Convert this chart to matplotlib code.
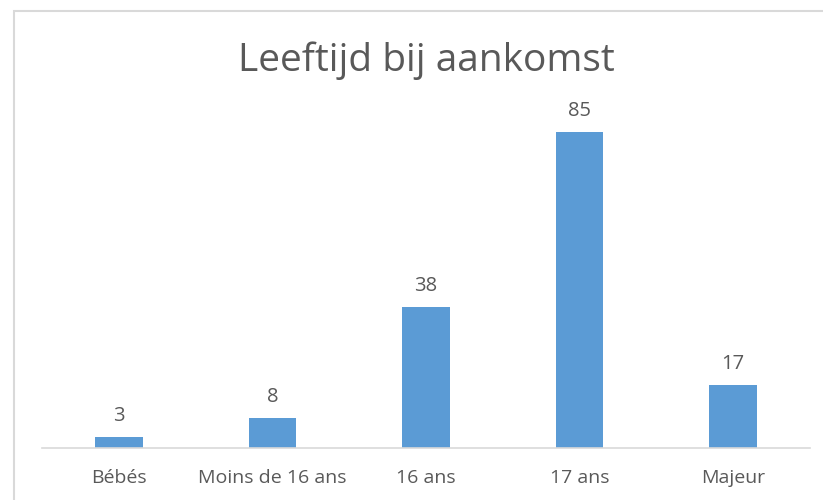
import matplotlib.pyplot as plt
from matplotlib.patches import Rectangle

categories = ['Bébés', 'Moins de 16 ans', '16 ans', '17 ans', 'Majeur']
values = [3, 8, 38, 85, 17]

bar_color = '#5B9BD5'
text_color = '#595959'
line_color = '#D9D9D9'

plt.rcParams['font.family'] = ['Open Sans', 'DejaVu Sans']

fig = plt.figure(figsize=(8.23, 5), dpi=100)
ax = fig.add_axes([42 / 823, 52 / 500, 768 / 823, 334.6 / 500])

x = range(len(categories))
bars = ax.bar(x, values, width=0.31, color=bar_color)
for b, v in zip(bars, values):
    ax.annotate(str(v), (b.get_x() + b.get_width() / 2, v), xytext=(0, 11.5),
                textcoords='offset points', ha='center', va='baseline',
                fontsize=14.5, color=text_color)

ax.set_xlim(-0.5, len(categories) - 0.5)
ax.set_ylim(0, 90)
ax.set_xticks(list(x))
ax.set_xticklabels(categories, fontsize=14, color=text_color)
ax.tick_params(axis='x', length=0, pad=15)
ax.set_yticks([])
for s in ['left', 'right', 'top']:
    ax.spines[s].set_visible(False)
ax.spines['bottom'].set_color(line_color)
ax.spines['bottom'].set_linewidth(1.2)

fig.text(0.518, 1 - 71 / 500, 'Leeftijd bij aankomst', ha='center', va='baseline',
         fontsize=28, color=text_color)

# chart border
fig.patches.append(Rectangle((14 / 823, -0.05), 1.1, 1.05 - 11 / 500, transform=fig.transFigure,
                             fill=False, edgecolor=line_color, linewidth=1.5))

fig.savefig('out.png', dpi=100)
